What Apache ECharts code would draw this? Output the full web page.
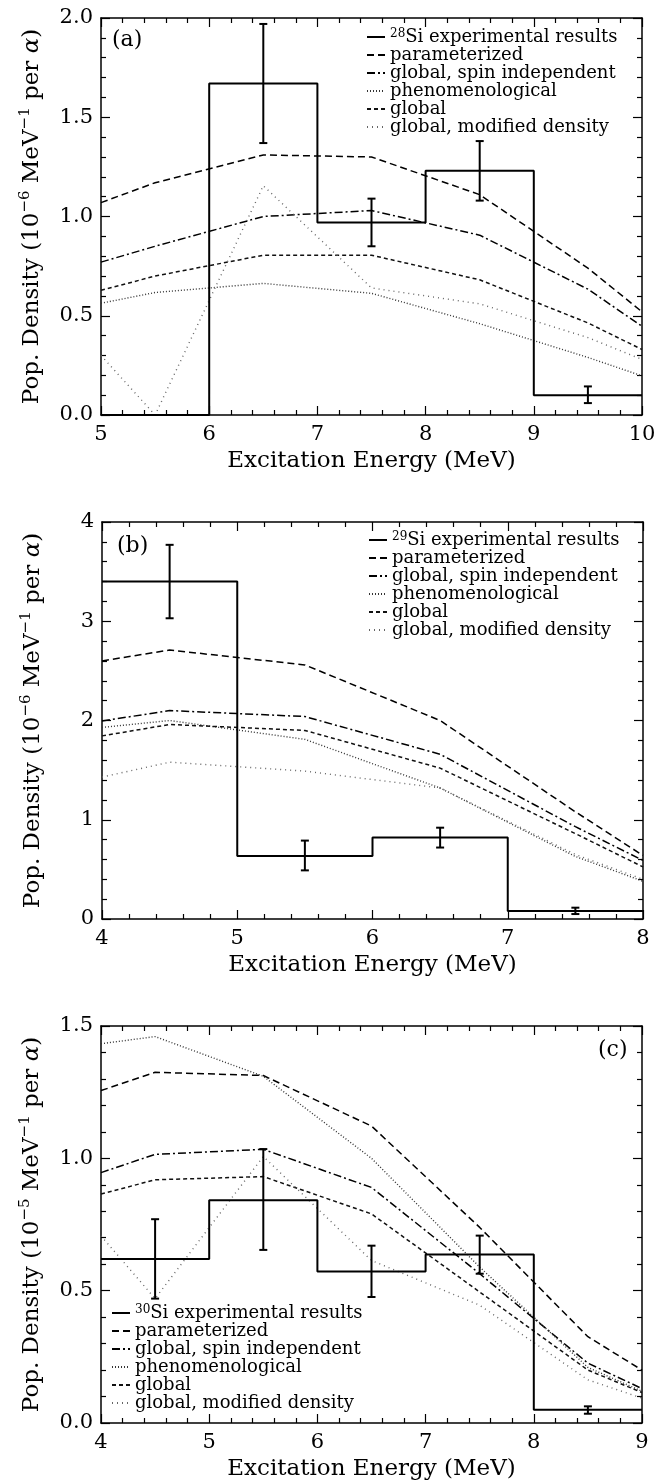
<!DOCTYPE html>
<html>
<head>
<meta charset="utf-8">
<script src="https://cdn.jsdelivr.net/npm/echarts@6/dist/echarts.min.js"></script>
<style>
html, body { margin: 0; padding: 0; background: #fff; }
#main { width: 669px; height: 1480px; }
</style>
</head>
<body>
<div id="main"></div>
<script>
// ---- panel (a) 28Si ----
const xModelA = [5, 5.5, 6.5, 7.5, 8.5, 9.5, 10];
const paramA = [1.07, 1.17, 1.31, 1.30, 1.11, 0.74, 0.52];
const spinIndepA = [0.77, 0.85, 1.00, 1.03, 0.906, 0.634, 0.447];
const phenomA = [0.563, 0.617, 0.663, 0.613, 0.46, 0.29, 0.197];
const globalA = [0.628, 0.70, 0.805, 0.805, 0.681, 0.464, 0.33];
const modDensA = [0.30, 0.0, 1.155, 0.64, 0.56, 0.39, 0.28];
const binEdgesA = [5, 6, 7, 8, 9, 10];
const expA = [0, 1.67, 0.97, 1.23, 0.10];
const errXA = [6.5, 7.5, 8.5, 9.5];
const errLoA = [1.37, 0.85, 1.08, 0.06];
const errHiA = [1.97, 1.09, 1.38, 0.144];
const xTicksA = [5, 6, 7, 8, 9, 10];
const yTicksA = [0, 0.5, 1.0, 1.5, 2.0];

// ---- panel (b) 29Si ----
const xModelB = [4, 4.5, 5.5, 6.5, 7.5, 8];
const paramB = [2.60, 2.71, 2.56, 2.00, 1.08, 0.64];
const spinIndepB = [1.995, 2.10, 2.04, 1.66, 0.93, 0.59];
const phenomB = [1.93, 2.00, 1.81, 1.32, 0.63, 0.38];
const globalB = [1.845, 1.96, 1.90, 1.52, 0.86, 0.525];
const modDensB = [1.43, 1.58, 1.49, 1.32, 0.65, 0.40];
const binEdgesB = [4, 5, 6, 7, 8];
const expB = [3.40, 0.635, 0.822, 0.08];
const errXB = [4.5, 5.5, 6.5, 7.5];
const errLoB = [3.03, 0.49, 0.72, 0.05];
const errHiB = [3.77, 0.79, 0.92, 0.114];
const xTicksB = [4, 5, 6, 7, 8];
const yTicksB = [0, 1, 2, 3, 4];

// ---- panel (c) 30Si ----
const xModelC = [4, 4.5, 5.5, 6.5, 7.5, 8.5, 9];
const paramC = [1.256, 1.325, 1.313, 1.122, 0.739, 0.326, 0.20];
const spinIndepC = [0.946, 1.015, 1.034, 0.89, 0.564, 0.226, 0.13];
const phenomC = [1.433, 1.46, 1.31, 1.00, 0.589, 0.21, 0.12];
const globalC = [0.865, 0.919, 0.931, 0.79, 0.495, 0.20, 0.115];
const modDensC = [0.707, 0.47, 1.007, 0.614, 0.445, 0.163, 0.094];
const binEdgesC = [4, 5, 6, 7, 8, 9];
const expC = [0.62, 0.842, 0.572, 0.637, 0.05];
const errXC = [4.5, 5.5, 6.5, 7.5, 8.5];
const errLoC = [0.47, 0.654, 0.476, 0.564, 0.035];
const errHiC = [0.77, 1.035, 0.67, 0.708, 0.063];
const xTicksC = [4, 5, 6, 7, 8, 9];
const yTicksC = [0, 0.5, 1.0, 1.5];

const FONT = 'DejaVu Serif';
const modelNames = ['parameterized', 'global, spin independent', 'phenomenological', 'global', 'global, modified density'];
const modelStyles = [
  { color: '#000', width: 1.5, type: [7, 4] },
  { color: '#000', width: 1.5, type: [8, 3, 2, 3] },
  { color: '#333', width: 1.4, type: [1, 2] },
  { color: '#111', width: 1.5, type: [4, 3] },
  { color: '#666', width: 1.4, type: [1, 4] }
];

const grids = [
  { left: 101, top: 18, width: 541, height: 397 },
  { left: 102, top: 522, width: 541, height: 397 },
  { left: 101, top: 1026, width: 541, height: 397 }
];

const xAxes = [];
const yAxes = [];
const series = [];

function tickBase(g, ticks) {
  return {
    type: 'value', gridIndex: g,
    min: ticks[0], max: ticks[ticks.length - 1], interval: ticks[1] - ticks[0],
    splitLine: { show: false },
    axisLine: { show: true, onZero: false, lineStyle: { color: '#000', width: 1.5 } },
    axisTick: { show: true, inside: true, length: 9, lineStyle: { color: '#000', width: 1.2 } },
    minorTick: { show: true, splitNumber: 5, length: 5, lineStyle: { color: '#000', width: 1.2 } }
  };
}

function addPanel(g, p) {
  xAxes.push(Object.assign(tickBase(g, p.xTicks), {
    position: 'bottom',
    name: 'Excitation Energy (MeV)', nameLocation: 'middle', nameGap: 35,
    nameTextStyle: { fontFamily: FONT, fontSize: 23, color: '#000' },
    axisLabel: { fontFamily: FONT, fontSize: 21, color: '#000', margin: 9 }
  }));
  xAxes.push(Object.assign(tickBase(g, p.xTicks), { position: 'top', axisLabel: { show: false } }));
  yAxes.push(Object.assign(tickBase(g, p.yTicks), {
    position: 'left',
    name: '{n|Pop. Density (10}{sup|−' + p.exp + '}{n| MeV}{sup|−1}{n| per }{it|α}{n|)}',
    nameLocation: 'middle', nameRotate: 90, nameGap: 55,
    nameTextStyle: {
      fontFamily: FONT, fontSize: 23, color: '#000',
      rich: {
        n: { fontFamily: FONT, fontSize: 23, lineHeight: 28, color: '#000' },
        sup: { fontFamily: FONT, fontSize: 15, lineHeight: 15, verticalAlign: 'top', color: '#000' },
        it: { fontFamily: FONT, fontSize: 23, lineHeight: 28, fontStyle: 'italic', color: '#000' }
      }
    },
    axisLabel: {
      fontFamily: FONT, fontSize: 21, color: '#000', margin: 8,
      formatter: v => v.toFixed(p.dec)
    }
  }));
  yAxes.push(Object.assign(tickBase(g, p.yTicks), { position: 'right', axisLabel: { show: false } }));

  const xi = 2 * g, yi = 2 * g;
  // model curves
  p.models.forEach((vals, k) => {
    series.push({
      name: modelNames[k], type: 'line', xAxisIndex: xi, yAxisIndex: yi,
      symbol: 'none', z: 2, silent: true,
      lineStyle: modelStyles[k],
      itemStyle: { color: modelStyles[k].color },
      data: p.xModel.map((x, i) => [x, vals[i]])
    });
  });
  // experimental histogram
  const histData = p.exp_vals.map((v, i) => [p.edges[i], v]);
  histData.push([p.edges[p.edges.length - 1], p.exp_vals[p.exp_vals.length - 1]]);
  series.push({
    name: p.expName, type: 'line', step: 'end', xAxisIndex: xi, yAxisIndex: yi,
    symbol: 'none', z: 3, silent: true,
    lineStyle: { color: '#000', width: 2 },
    itemStyle: { color: '#000' },
    data: histData
  });
  // error bars
  series.push({
    type: 'custom', xAxisIndex: xi, yAxisIndex: yi, z: 4, silent: true,
    encode: { x: 0, y: [1, 2] },
    data: p.errX.map((x, i) => [x, p.errLo[i], p.errHi[i]]),
    renderItem: (params, api) => {
      const lo = api.coord([api.value(0), api.value(1)]);
      const hi = api.coord([api.value(0), api.value(2)]);
      const st = { stroke: '#000', lineWidth: 2 };
      const c = 4;
      return {
        type: 'group',
        children: [
          { type: 'line', shape: { x1: lo[0], y1: lo[1], x2: hi[0], y2: hi[1] }, style: st },
          { type: 'line', shape: { x1: lo[0] - c, y1: lo[1], x2: lo[0] + c, y2: lo[1] }, style: st },
          { type: 'line', shape: { x1: hi[0] - c, y1: hi[1], x2: hi[0] + c, y2: hi[1] }, style: st }
        ]
      };
    }
  });
}

addPanel(0, {
  xTicks: xTicksA, yTicks: yTicksA, exp: '6', dec: 1,
  xModel: xModelA, models: [paramA, spinIndepA, phenomA, globalA, modDensA],
  edges: binEdgesA, exp_vals: expA, errX: errXA, errLo: errLoA, errHi: errHiA,
  expName: '28Si experimental results'
});
addPanel(1, {
  xTicks: xTicksB, yTicks: yTicksB, exp: '6', dec: 0,
  xModel: xModelB, models: [paramB, spinIndepB, phenomB, globalB, modDensB],
  edges: binEdgesB, exp_vals: expB, errX: errXB, errLo: errLoB, errHi: errHiB,
  expName: '29Si experimental results'
});
addPanel(2, {
  xTicks: xTicksC, yTicks: yTicksC, exp: '5', dec: 1,
  xModel: xModelC, models: [paramC, spinIndepC, phenomC, globalC, modDensC],
  edges: binEdgesC, exp_vals: expC, errX: errXC, errLo: errLoC, errHi: errHiC,
  expName: '30Si experimental results'
});

function legendFor(expName, left, top) {
  return {
    orient: 'vertical', left: left, top: top, padding: 0,
    itemWidth: 18, itemHeight: 14, itemGap: 0,
    selectedMode: false,
    data: [expName].concat(modelNames),
    // hide the default circle marker, keep only the line sample
    itemStyle: { color: 'rgba(0,0,0,0)', borderWidth: 0, opacity: 0 },
    formatter: name => name.replace(/^(\d+)Si/, '{sup|$1}Si'),
    textStyle: {
      fontFamily: FONT, fontSize: 18, lineHeight: 18, color: '#000',
      rich: { sup: { fontFamily: FONT, fontSize: 12, lineHeight: 12, verticalAlign: 'top', color: '#000' } }
    }
  };
}

const chart = echarts.init(document.getElementById('main'), null, { renderer: 'canvas' });
chart.setOption({
  animation: false,
  backgroundColor: '#fff',
  title: [
    { text: '(a)', left: 112, top: 29, padding: 0, textStyle: { fontFamily: FONT, fontSize: 22, fontWeight: 'normal', color: '#000' } },
    { text: '(b)', left: 117, top: 535, padding: 0, textStyle: { fontFamily: FONT, fontSize: 22, fontWeight: 'normal', color: '#000' } },
    { text: '(c)', left: 598, top: 1039, padding: 0, textStyle: { fontFamily: FONT, fontSize: 22, fontWeight: 'normal', color: '#000' } }
  ],
  legend: [
    legendFor('28Si experimental results', 366, 28),
    legendFor('29Si experimental results', 368, 531),
    legendFor('30Si experimental results', 111, 1304)
  ],
  grid: grids.map(g => Object.assign({ outerBoundsMode: 'none' }, g)),
  xAxis: xAxes,
  yAxis: yAxes,
  series: series
});
</script>
</body>
</html>
